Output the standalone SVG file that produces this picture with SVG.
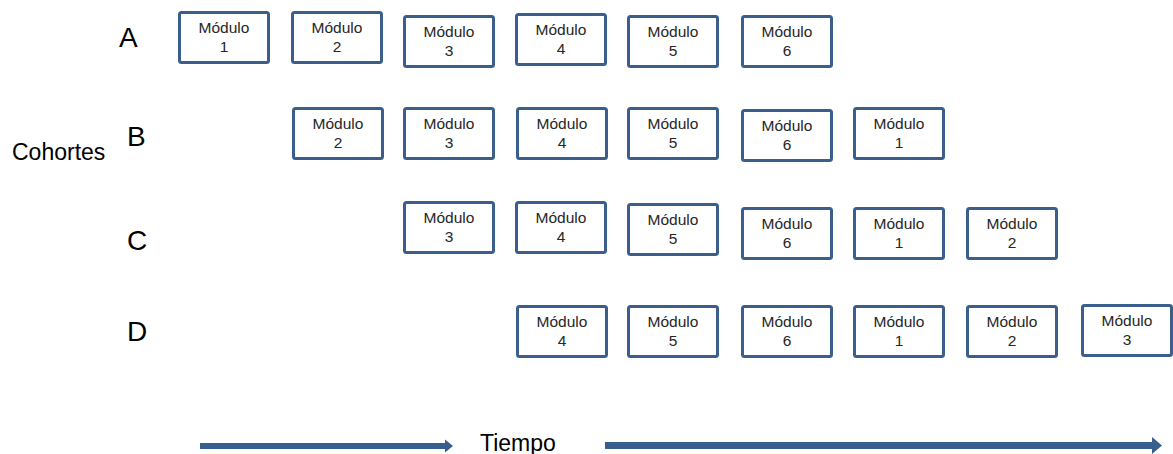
<svg xmlns="http://www.w3.org/2000/svg" width="1173" height="454" viewBox="0 0 1173 454">
<style>
.box{fill:#fff;stroke:#3A5F8C;stroke-width:3}
.t{font-family:"Liberation Sans",Arial,sans-serif;font-size:15.5px;fill:#262626;text-anchor:middle}
.lbl{font-family:"Liberation Sans",Arial,sans-serif;font-size:28px;fill:#000}
.big{font-family:"Liberation Sans",Arial,sans-serif;font-size:23px;fill:#000}
.arr{fill:#365F8D}
</style>
<rect width="1173" height="454" fill="#fff"/>
<g id="labels">
<text class="lbl" x="119" y="47">A</text>
<text class="lbl" x="127" y="146">B</text>
<text class="lbl" x="127" y="250">C</text>
<text class="lbl" x="127" y="341">D</text>
<text class="big" x="12" y="160">Cohortes</text>
<text class="big" x="480" y="451">Tiempo</text>
</g>
<g id="A1"><rect class="box" x="179.5" y="12.5" width="89" height="50" rx="2"/><text class="t" x="224" y="33">Módulo</text><text class="t" x="224" y="51.5">1</text></g>
<g id="A2"><rect class="box" x="292.5" y="12.5" width="89" height="50" rx="2"/><text class="t" x="337" y="33">Módulo</text><text class="t" x="337" y="51.5">2</text></g>
<g id="A3"><rect class="box" x="404.5" y="16.5" width="89" height="50" rx="2"/><text class="t" x="449" y="37">Módulo</text><text class="t" x="449" y="55.5">3</text></g>
<g id="A4"><rect class="box" x="516.5" y="14.5" width="89" height="50" rx="2"/><text class="t" x="561" y="35">Módulo</text><text class="t" x="561" y="53.5">4</text></g>
<g id="A5"><rect class="box" x="628.5" y="16.5" width="89" height="50" rx="2"/><text class="t" x="673" y="37">Módulo</text><text class="t" x="673" y="55.5">5</text></g>
<g id="A6"><rect class="box" x="742.5" y="16.5" width="89" height="50" rx="2"/><text class="t" x="787" y="37">Módulo</text><text class="t" x="787" y="55.5">6</text></g>

<g id="B2"><rect class="box" x="293.5" y="108.5" width="89" height="50" rx="2"/><text class="t" x="338" y="129">Módulo</text><text class="t" x="338" y="147.5">2</text></g>
<g id="B3"><rect class="box" x="404.5" y="108.5" width="89" height="50" rx="2"/><text class="t" x="449" y="129">Módulo</text><text class="t" x="449" y="147.5">3</text></g>
<g id="B4"><rect class="box" x="517.5" y="108.5" width="89" height="50" rx="2"/><text class="t" x="562" y="129">Módulo</text><text class="t" x="562" y="147.5">4</text></g>
<g id="B5"><rect class="box" x="628.5" y="108.5" width="89" height="50" rx="2"/><text class="t" x="673" y="129">Módulo</text><text class="t" x="673" y="147.5">5</text></g>
<g id="B6"><rect class="box" x="742.5" y="110.5" width="89" height="50" rx="2"/><text class="t" x="787" y="131">Módulo</text><text class="t" x="787" y="149.5">6</text></g>
<g id="B1"><rect class="box" x="854.5" y="108.5" width="89" height="50" rx="2"/><text class="t" x="899" y="129">Módulo</text><text class="t" x="899" y="147.5">1</text></g>

<g id="C3"><rect class="box" x="404.5" y="202.5" width="89" height="50" rx="2"/><text class="t" x="449" y="223">Módulo</text><text class="t" x="449" y="241.5">3</text></g>
<g id="C4"><rect class="box" x="516.5" y="202.5" width="89" height="50" rx="2"/><text class="t" x="561" y="223">Módulo</text><text class="t" x="561" y="241.5">4</text></g>
<g id="C5"><rect class="box" x="628.5" y="204.5" width="89" height="50" rx="2"/><text class="t" x="673" y="225">Módulo</text><text class="t" x="673" y="243.5">5</text></g>
<g id="C6"><rect class="box" x="742.5" y="208.5" width="89" height="50" rx="2"/><text class="t" x="787" y="229">Módulo</text><text class="t" x="787" y="247.5">6</text></g>
<g id="C1"><rect class="box" x="854.5" y="208.5" width="89" height="50" rx="2"/><text class="t" x="899" y="229">Módulo</text><text class="t" x="899" y="247.5">1</text></g>
<g id="C2"><rect class="box" x="967.5" y="208.5" width="89" height="50" rx="2"/><text class="t" x="1012" y="229">Módulo</text><text class="t" x="1012" y="247.5">2</text></g>

<g id="D4"><rect class="box" x="517.5" y="306.5" width="89" height="50" rx="2"/><text class="t" x="562" y="327">Módulo</text><text class="t" x="562" y="345.5">4</text></g>
<g id="D5"><rect class="box" x="628.5" y="306.5" width="89" height="50" rx="2"/><text class="t" x="673" y="327">Módulo</text><text class="t" x="673" y="345.5">5</text></g>
<g id="D6"><rect class="box" x="742.5" y="306.5" width="89" height="50" rx="2"/><text class="t" x="787" y="327">Módulo</text><text class="t" x="787" y="345.5">6</text></g>
<g id="D1"><rect class="box" x="854.5" y="306.5" width="89" height="50" rx="2"/><text class="t" x="899" y="327">Módulo</text><text class="t" x="899" y="345.5">1</text></g>
<g id="D2"><rect class="box" x="967.5" y="306.5" width="89" height="50" rx="2"/><text class="t" x="1012" y="327">Módulo</text><text class="t" x="1012" y="345.5">2</text></g>
<g id="D3"><rect class="box" x="1082.5" y="305.5" width="89" height="50" rx="2"/><text class="t" x="1127" y="326">Módulo</text><text class="t" x="1127" y="344.5">3</text></g>

<g id="connectors">
<polygon class="arr" points="200,443 445,443 445,439.5 453,446 445,452.5 445,449 200,449"/>
<polygon class="arr" points="605,442 1152,442 1152,437 1162,445.5 1152,454 1152,449 605,449"/>
</g>
</svg>
